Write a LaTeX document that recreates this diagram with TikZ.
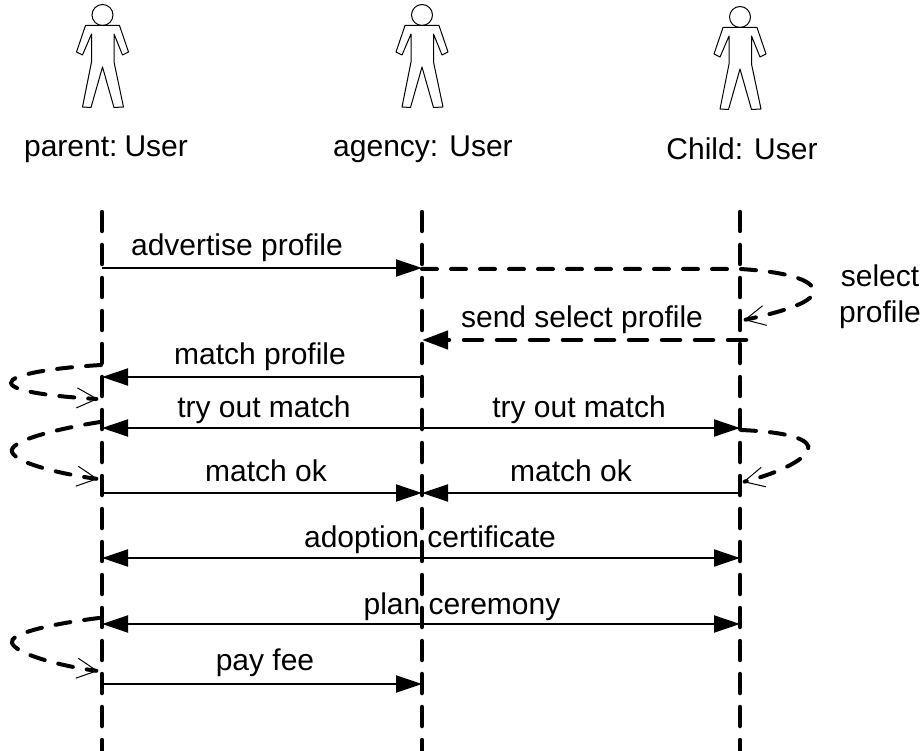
\documentclass[tikz,border=0pt]{standalone}
\usepackage{fontspec}
\setmainfont{Liberation Sans}
\usetikzlibrary{arrows.meta}
\tikzset{
  actor/.pic={
    \draw[line width=1pt] (0,15) circle (10.5pt);
    \draw[line width=1pt,line join=round]
      (-17,25.5) -- (-26,52) -- (-20,55) -- (-11,34) -- (-11,62) -- (-20,107)
      -- (-11.5,107.5) -- (0,67) -- (11.5,107.5) -- (21,107) -- (11.5,62)
      -- (11.5,34) -- (20,55) -- (26,52) -- (17,25.5) -- cycle;
  },
  lbl/.style={font=\fontsize{30}{35}\selectfont, inner sep=0pt, anchor=base},
  lifeline/.style={line width=4.5pt, line cap=round, dash pattern=on 19pt off 14pt},
  msg/.style={line width=2pt, -{Triangle[length=26pt,width=17pt]}},
  dmsg/.style={line width=4.5pt, line cap=round, dash pattern=on 18pt off 15pt, -{Triangle[length=26pt,width=18pt]}},
  selfloop/.style={line width=4pt, line cap=round, dash pattern=on 15pt off 14pt,
    -{Straight Barb[length=20pt,width=20pt,line width=1pt]}}
}
\begin{document}
\begin{tikzpicture}[x=1pt,y=-1pt]
\useasboundingbox (0,0) rectangle (923,751);

% actors
\pic at (102.5,0) {actor};
\pic at (422,0) {actor};
\pic at (740,2) {actor};
\node[lbl] (parentlbl) at (106,157) {parent:\kern-4pt{} User};
\node[lbl] (agencylbl) at (423,157) {agency: User};
\node[lbl] (childlbl) at (742,160) {Child: User};

% lifelines
\coordinate (Ptop) at (102,212); \coordinate (Pbot) at (102,760);
\coordinate (Atop) at (422,212); \coordinate (Abot) at (422,760);
\coordinate (Ctop) at (740,212); \coordinate (Cbot) at (740,760);
\draw[lifeline] (Ptop) -- (Pbot);
\draw[lifeline] (Atop) -- (Abot);
\draw[lifeline] (Ctop) -- (Cbot);

% message points
\coordinate (P1) at (102,268); \coordinate (A1) at (422,268);
\coordinate (A2) at (422,269); \coordinate (C2) at (740,269); \coordinate (C2e) at (744,320);
\coordinate (C3) at (746,340); \coordinate (A3) at (422,340);
\coordinate (A4) at (422,377); \coordinate (P4) at (102,377);
\coordinate (P4s) at (101,365); \coordinate (P4e) at (98,399);
\coordinate (A5) at (422,428); \coordinate (P5) at (102,428); \coordinate (C5) at (740,428);
\coordinate (P5s) at (100,422); \coordinate (P5e) at (98,479);
\coordinate (C5s) at (741,430); \coordinate (C5e) at (743,482);
\coordinate (P6) at (102,493); \coordinate (A6) at (422,493); \coordinate (C6) at (740,493);
\coordinate (A7) at (422,558); \coordinate (P7) at (102,558); \coordinate (C7) at (740,558);
\coordinate (A8) at (422,624); \coordinate (P8) at (102,624); \coordinate (C8) at (740,624);
\coordinate (P8s) at (99,618); \coordinate (P8e) at (98,671);
\coordinate (P9) at (102,684); \coordinate (A9) at (422,684);

% messages
\draw[msg] (P1) -- (A1);
\node[lbl] (m1) at (237,256) {advertise profile};

\draw[selfloop] (A2) -- (C2) .. controls (792,272) and (818,282) .. (813,294)
  .. controls (808,305) and (772,314) .. (C2e);
\node[lbl] (m2a) at (880,287) {select};
\node[lbl] (m2b) at (880,322) {profile};

\draw[dmsg] (C3) -- (A3);
\node[lbl] (m3) at (582,327) {send select profile};

\draw[msg] (A4) -- (P4);
\node[lbl] (m4) at (260,364) {match profile};
\draw[selfloop] (P4s) .. controls (50,368) and (10,375) .. (11,383)
  .. controls (12,392) and (60,397) .. (P4e);

\draw[msg] (A5) -- (P5);
\draw[msg] (A5) -- (C5);
\node[lbl] (m5a) at (264,417) {try out match};
\node[lbl] (m5b) at (579,417) {try out match};
\draw[selfloop] (P5s) .. controls (50,430) and (8,442) .. (12,452)
  .. controls (16,463) and (60,474) .. (P5e);
\draw[selfloop] (C5s) .. controls (790,432) and (812,440) .. (808,450)
  .. controls (803,462) and (772,475) .. (C5e);

\draw[msg] (P6) -- (A6);
\draw[msg] (C6) -- (A6);
\node[lbl] (m6a) at (266,481) {match ok};
\node[lbl] (m6b) at (571,481) {match ok};

\draw[msg] (A7) -- (P7);
\draw[msg] (A7) -- (C7);
\node[lbl] (m7) at (430,547) {adoption certificate};

\draw[msg] (A8) -- (P8);
\draw[msg] (A8) -- (C8);
\node[lbl] (m8) at (462,614) {plan ceremony};
\draw[selfloop] (P8s) .. controls (50,624) and (8,634) .. (12,643)
  .. controls (16,654) and (60,666) .. (P8e);

\draw[msg] (P9) -- (A9);
\node[lbl] (m9) at (265,670) {pay fee};
\end{tikzpicture}
\end{document}
